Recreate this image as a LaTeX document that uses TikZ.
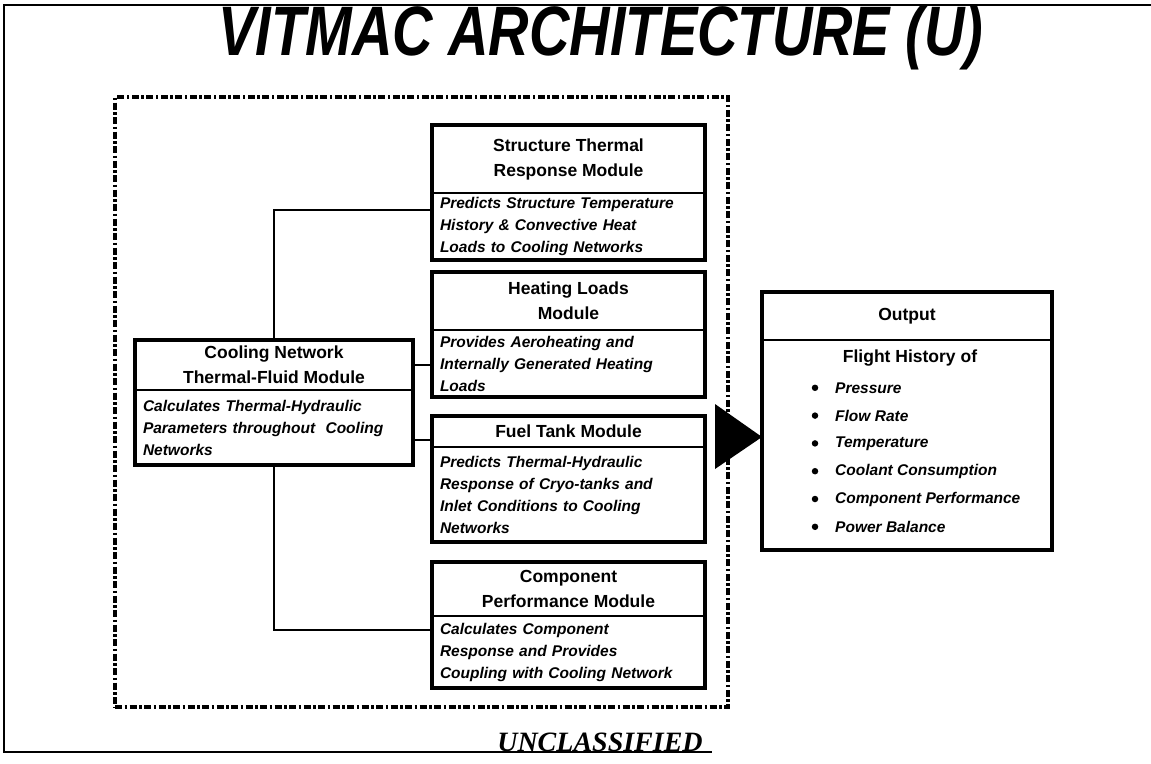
\documentclass[tikz,border=0pt]{standalone}
\usepackage{fontspec}
\setmainfont{Liberation Sans}
\newfontfamily\timesf{Liberation Serif}
\newcommand\modbox[9]{%
  \node[hdr, minimum width=#4, minimum height=#5] (#1-h) at (#2,#3) {#7};
  \node[bdy, minimum width=#4, minimum height=#6, text width=#9] (#1-b) at (#1-h.south west) {#8};
  \draw[frame] (#1-h.north west) rectangle (#1-b.south east);
}
\begin{document}
\begin{tikzpicture}[x=1pt,y=-1pt,
  hdr/.style={draw, line width=1.5pt, outer sep=0pt, inner sep=0pt, anchor=north west, align=center, font=\bfseries\fontsize{17.5}{25}\selectfont},
  bdy/.style={draw, line width=1.5pt, outer sep=0pt, inner sep=0pt, anchor=north west, align=left, font=\bfseries\itshape\fontsize{15.5}{22}\selectfont},
  frame/.style={draw, line width=4.5pt},
  link/.style={draw, line width=2pt},
  grp/.style={draw, line width=4pt, dash pattern=on 7pt off 2.5pt on 2.5pt off 2.5pt, anchor=north west, minimum width=613pt, minimum height=610pt, inner sep=0pt, outer sep=0pt},
  item/.style={anchor=west, inner sep=0pt, font=\bfseries\itshape\fontsize{15.5}{20}\selectfont},
  dot/.style={circle, fill=black, inner sep=0pt, minimum size=6.5pt}
]
\useasboundingbox (0,0) rectangle (1151,763);
\fill[white] (0,0) rectangle (1151,763);

% page frame
\draw[line width=2pt] (1151,5) -- (4,5) -- (4,752) -- (712,752);

% title
\node[inner sep=0pt] (title) at (601,37) {\scalebox{0.8}[1]{\fontsize{70}{70}\selectfont\bfseries\itshape VITMAC ARCHITECTURE (U)}};

% dashed group
\node[grp] (group) at (115,97) {};

% modules
\modbox{st}{432}{125}{273}{68}{67}{Structure Thermal\\Response Module}{Predicts Structure Temperature\\History \& Convective Heat\\Loads to Cooling Networks}{257pt}
\modbox{hl}{432}{272}{273}{58}{67}{Heating Loads\\Module}{Provides Aeroheating and\\Internally Generated Heating\\Loads}{257pt}
\modbox{fu}{432}{416}{273}{31}{95}{Fuel Tank Module}{Predicts Thermal-Hydraulic\\Response of Cryo-tanks and\\Inlet Conditions to Cooling\\Networks}{257pt}
\modbox{cp}{432}{562}{273}{54}{72}{Component\\Performance Module}{Calculates Component\\Response and Provides\\Coupling with Cooling Network}{257pt}
\modbox{cool}{135}{340}{278}{50}{75}{Cooling Network\\Thermal-Fluid Module}{Calculates Thermal-Hydraulic\\Parameters throughout\ \ Cooling\\Networks}{262pt}
\modbox{out}{762}{292}{290}{48}{210}{\raisebox{-4pt}{Output}}{}{274pt}

% output contents
\node[inner sep=0pt, font=\bfseries\fontsize{17.5}{20}\selectfont] (fh) at (910,358) {Flight History of};
\foreach \i/\t in {1/Pressure,2/Flow Rate,3/Temperature,4/Coolant Consumption,5/Component Performance,6/Power Balance}{
  \node[dot] (b\i) at (815,{360+27.8*\i}) {};
  \node[item] (it\i) at (835,{360+27.8*\i}) {\t};
}

% connectors
\draw[link] ([yshift=-17pt]st-b.north west) -| (cool-h.north);
\draw[link] (cool-b.south) |- ([yshift=-14pt]cp-b.north west);
\draw[link] (cool-h.east) -- (cool-h.east -| hl-b.west);
\draw[link] ([yshift=-8pt]fu-h.west) -- ([yshift=-8pt]fu-h.west -| cool-b.east);

% big arrow into output
\coordinate (tip) at ([yshift=8pt]out-b.west);
\fill (tip) -- ++(-47,-33) -- ++(0,65) -- cycle;

% classification
\node[anchor=base, inner sep=0pt, font=\timesf\bfseries\itshape\fontsize{28}{28}\selectfont] (uncl) at (600,751) {UNCLASSIFIED};
\end{tikzpicture}
\end{document}
